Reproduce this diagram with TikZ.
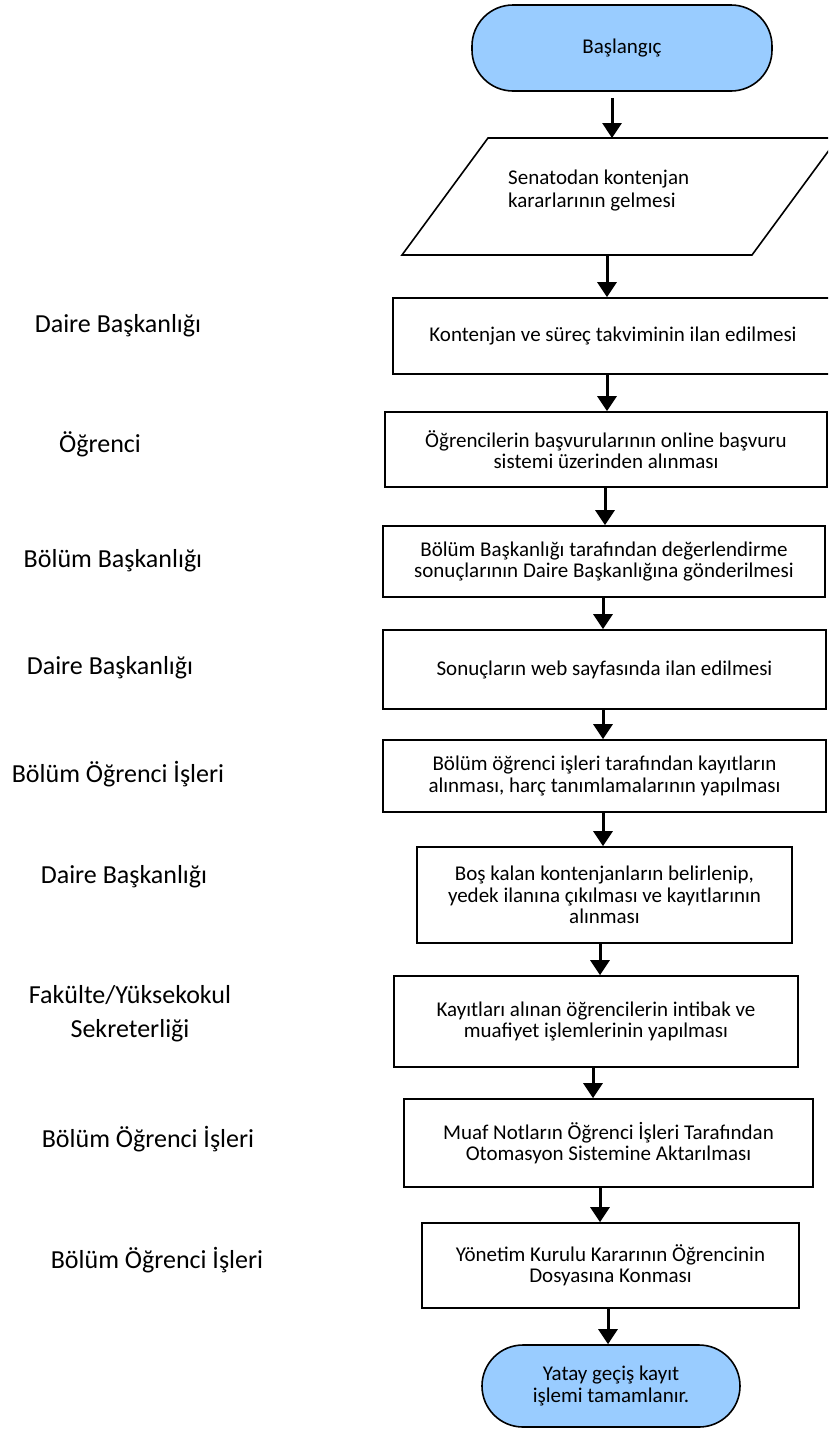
\documentclass[tikz,border=0pt]{standalone}
\usepackage{fontspec}
\setmainfont{Carlito}
\usetikzlibrary{arrows.meta}
\definecolor{termblue}{HTML}{99CCFF}
\begin{document}
\begin{tikzpicture}[x=1pt,y=-1pt,
  boxtext/.style={font=\fontsize{21}{21.5}\selectfont, align=center},
  procbox/.style={draw, line width=1.6pt, rectangle, inner sep=0pt, boxtext},
  term/.style={draw, line width=1.6pt, fill=termblue, rounded corners=41pt, inner sep=0pt, boxtext},
  lbl/.style={font=\fontsize{26}{34}\selectfont, anchor=base, inner sep=0pt},
  arr/.style={line width=3pt, -{Triangle[width=19pt,length=15pt]}}]
\path[use as bounding box, clip] (0,0) rectangle (828,1430);
\fill[white] (0,0) rectangle (828,1430);

% flow nodes
\node[term, minimum width=300pt, minimum height=86pt] (start) at (622,48) {Başlangıç};

\draw[line width=1.6pt] (488,138) -- (838,138) -- (752,255) -- (402,255) -- cycle;
\coordinate (ptop) at (612,138);
\coordinate (pbot) at (607,255);
\node[font=\fontsize{21}{23}\selectfont, align=left, anchor=west, inner sep=0pt] (ptext) at (508,191) {Senatodan kontenjan\\kararlarının gelmesi};

\node[procbox, minimum width=440pt, minimum height=76pt] (b1) at (613,336) {Kontenjan ve süreç takviminin ilan edilmesi};
\node[procbox, minimum width=442pt, minimum height=75pt] (b2) at (606,449.5) {Öğrencilerin başvurularının online başvuru\\sistemi üzerinden alınması};
\node[procbox, minimum width=442pt, minimum height=71pt] (b3) at (604,561.5) {Bölüm Başkanlığı tarafından değerlendirme\\sonuçlarının Daire Başkanlığına gönderilmesi};
\node[procbox, minimum width=443pt, minimum height=79pt] (b4) at (604.5,669.5) {Sonuçların web sayfasında ilan edilmesi};
\node[procbox, minimum width=443pt, minimum height=72pt] (b5) at (604.5,776) {Bölüm öğrenci işleri tarafından kayıtların\\alınması, harç tanımlamalarının yapılması};
\node[procbox, minimum width=375pt, minimum height=96pt] (b6) at (604.5,895) {Boş kalan kontenjanların belirlenip,\\yedek ilanına çıkılması ve kayıtlarının\\alınması};
\node[procbox, minimum width=404pt, minimum height=91pt] (b7) at (596,1021.5) {Kayıtları alınan öğrencilerin intibak ve\\muafiyet işlemlerinin yapılması};
\node[procbox, minimum width=409pt, minimum height=88pt] (b8) at (608.5,1143) {Muaf Notların Öğrenci İşleri Tarafından\\Otomasyon Sistemine Aktarılması};
\node[procbox, minimum width=377pt, minimum height=85pt] (b9) at (610.5,1265.5) {Yönetim Kurulu Kararının Öğrencinin\\Dosyasına Konması};
\node[term, minimum width=258pt, minimum height=82pt] (end) at (611,1386) {Yatay geçiş kayıt\\işlemi tamamlanır.};

% connectors
\draw[arr] ([yshift=-6pt]start.south -| 612,0) -- (ptop);
\draw[arr] (pbot) -- (b1.north -| 607,0);
\draw[arr] (b1.south -| 607,0) -- (b2.north -| 607,0);
\draw[arr] (b2.south -| 605,0) -- (b3.north -| 605,0);
\draw[arr] (b3.south -| 603,0) -- (b4.north -| 603,0);
\draw[arr] (b4.south -| 603,0) -- (b5.north -| 603,0);
\draw[arr] (b5.south -| 603,0) -- (b6.north -| 603,0);
\draw[arr] (b6.south -| 600,0) -- (b7.north -| 600,0);
\draw[arr] (b7.south -| 593,0) -- (b8.north -| 593,0);
\draw[arr] (b8.south -| 600,0) -- (b9.north -| 600,0);
\draw[arr] (b9.south -| 608,0) -- (end.north -| 608,0);

% left labels
\node[lbl] (l1) at (118,332) {Daire Başkanlığı};
\node[lbl] (l2) at (100,452) {Öğrenci};
\node[lbl] (l3) at (113,567) {Bölüm Başkanlığı};
\node[lbl] (l4) at (110,674) {Daire Başkanlığı};
\node[lbl] (l5) at (118,782) {Bölüm Öğrenci İşleri};
\node[lbl] (l6) at (124,883) {Daire Başkanlığı};
\node[lbl] (l7a) at (130,1003) {Fakülte/Yüksekokul};
\node[lbl] (l7b) at (130,1037) {Sekreterliği};
\node[lbl] (l8) at (148,1147) {Bölüm Öğrenci İşleri};
\node[lbl] (l9) at (157,1268) {Bölüm Öğrenci İşleri};
\end{tikzpicture}
\end{document}
